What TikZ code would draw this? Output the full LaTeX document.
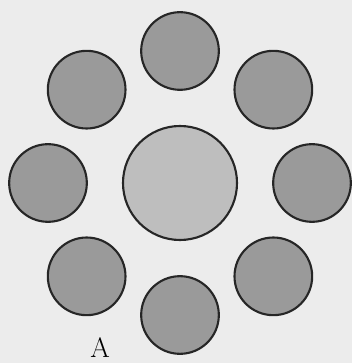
\documentclass[tikz,border=0pt]{standalone}
\usetikzlibrary{positioning}
\definecolor{cbg}{HTML}{ECECEC}
\definecolor{couter}{HTML}{9A9A9A}
\definecolor{cinner}{HTML}{BEBEBE}
\definecolor{cline}{HTML}{262626}
\tikzset{
  every picture/.style={line width=1.8pt},
  ball/.style={circle, draw=cline, fill=#1, inner sep=0pt},
  ball/.default=couter,
}

\begin{document}
\begin{tikzpicture}
  \fill[cbg] (-5.4,-5.4) rectangle (5.16,5.49);
  \useasboundingbox (-5.4,-5.4) rectangle (5.16,5.49);
  \node[ball=cinner, minimum size=3.42cm] (hub) at (0,0) {};
  \foreach \a [count=\j] in {90,135,180,225,270,315,0,45} {
    \node[ball, minimum size=2.33cm] (sat\j) at (\a:3.96cm) {};
  }
  \node[inner sep=0pt, anchor=north, font=\fontsize{24}{26}\selectfont] (lab) at (-2.4,-4.6) {A};
\end{tikzpicture}
\end{document}
